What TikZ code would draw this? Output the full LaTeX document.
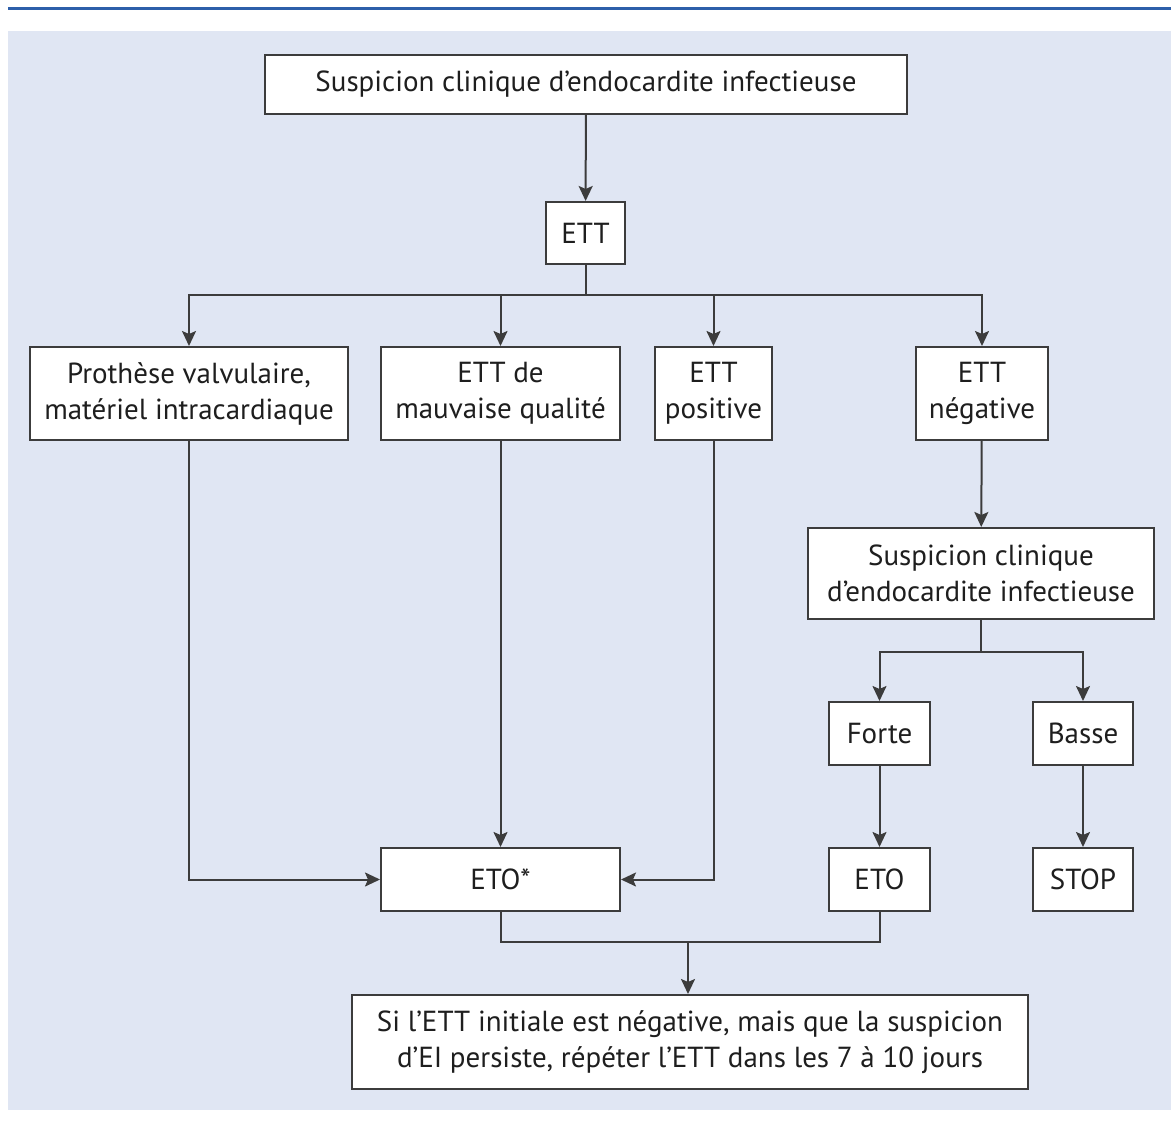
\documentclass[tikz,border=0pt]{standalone}
\usepackage{fontspec}
\setmainfont{PT Sans}
\usepackage{tikz}
\usetikzlibrary{arrows.meta}
\definecolor{fond}{RGB}{224,230,243}
\definecolor{filet}{RGB}{45,95,170}
\definecolor{trait}{RGB}{60,60,60}
\definecolor{texte}{RGB}{30,30,30}

\begin{document}
\begin{tikzpicture}[x=1pt,y=-1pt,
  boite/.style={draw=trait,line width=2pt,fill=white,align=center,inner sep=0pt,
    text=texte,font=\fontsize{29}{36}\selectfont},
  fl/.style={draw=trait,line width=2pt,-{Stealth[length=15pt,width=14pt,inset=3pt]}},
  ln/.style={draw=trait,line width=2pt}]
\useasboundingbox (0,0) rectangle (1171,1122);
\fill[fond] (8,31) rectangle (1171,1110);
\draw[filet,line width=3pt] (8,8.5) -- (1171,8.5);
\node[boite,minimum width=642pt,minimum height=59pt] (top) at (586,84.5) {Suspicion clinique d’endocardite infectieuse};
\node[boite,minimum width=79pt,minimum height=62pt] (ett) at (585.5,233) {ETT};
\node[boite,minimum width=318pt,minimum height=93pt] (prot) at (189,393.5) {Prothèse valvulaire,\\matériel intracardiaque};
\node[boite,minimum width=239pt,minimum height=93pt] (qual) at (500.5,393.5) {ETT de\\mauvaise qualité};
\node[boite,minimum width=117pt,minimum height=93pt] (pos) at (713.5,393.5) {ETT\\positive};
\node[boite,minimum width=132pt,minimum height=93pt] (neg) at (982,393.5) {ETT\\négative};
\node[boite,minimum width=346pt,minimum height=91pt] (susp) at (981,573.5) {Suspicion clinique\\d’endocardite infectieuse};
\node[boite,minimum width=101pt,minimum height=63pt] (forte) at (879.5,733.5) {Forte};
\node[boite,minimum width=100pt,minimum height=63pt] (basse) at (1083,733.5) {Basse};
\node[boite,minimum width=239pt,minimum height=63pt] (eto) at (500.5,879.5) {ETO*};
\node[boite,minimum width=101pt,minimum height=63pt] (etob) at (879.5,879.5) {ETO};
\node[boite,minimum width=100pt,minimum height=63pt] (stop) at (1083,879.5) {STOP};
\node[boite,minimum width=676pt,minimum height=94pt] (bas) at (690,1042) {Si l’ETT initiale est négative, mais que la suspicion\\d’EI persiste, répéter l’ETT dans les 7 à 10 jours};
\coordinate (c1) at (585.5,295);
\coordinate (c2) at (981,652);
\coordinate (c3) at (688,942);
\draw[fl] (top) -- (ett);
\draw[ln] (ett) -- (c1);
\draw[fl] (c1) -| (prot);
\draw[fl] (c1) -| (qual);
\draw[fl] (c1) -| (pos);
\draw[fl] (c1) -| (neg);
\draw[fl] (neg) -- (susp);
\draw[ln] (susp) -- (c2);
\draw[fl] (c2) -| (forte);
\draw[fl] (c2) -| (basse);
\draw[fl] (forte) -- (etob);
\draw[fl] (basse) -- (stop);
\draw[fl] (prot.south) |- (eto.west);
\draw[fl] (qual) -- (eto);
\draw[fl] (pos.south) |- (eto.east);
\draw[ln] (eto.south) |- (c3) -| (etob.south);
\draw[fl] (c3) -- (c3 |- bas.north);
\end{tikzpicture}
\end{document}
